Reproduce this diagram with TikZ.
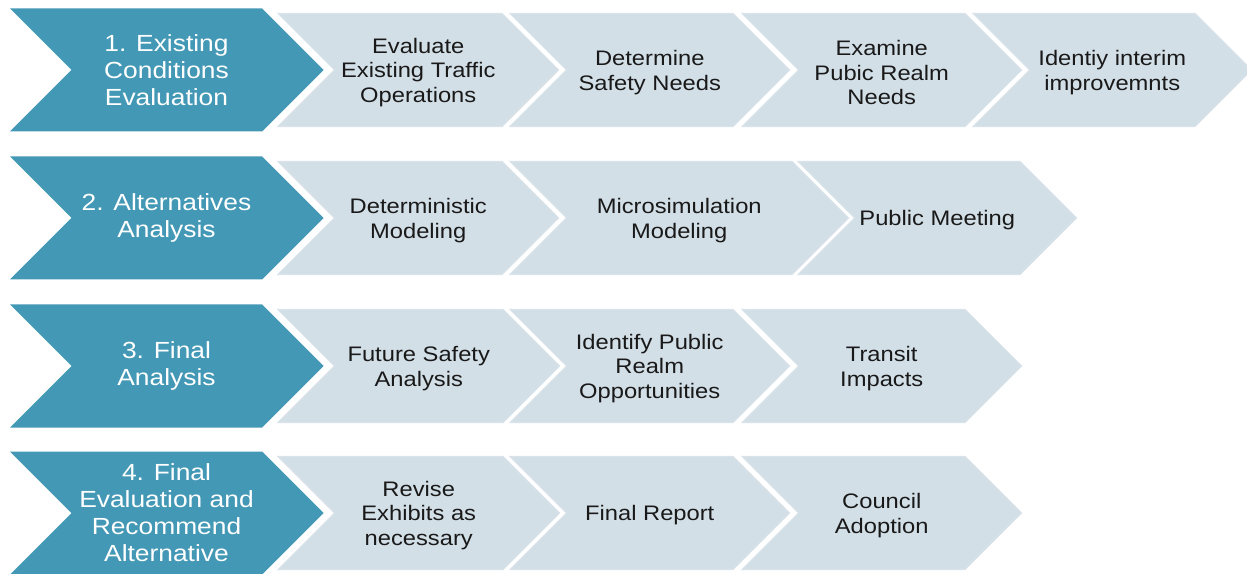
\documentclass[tikz,border=0pt]{standalone}
\usepackage{fontspec}
\setmainfont[FakeStretch=1.13]{Liberation Sans}
\usepackage{tikz}
\definecolor{phaseblue}{RGB}{67,152,181}
\definecolor{stepgray}{RGB}{211,223,231}
\definecolor{stepedge}{RGB}{218,227,234}
% chevron outline: left x, right x (top corner), middle y, half height
\newcommand{\chevron}[4]{%
  (#1,#3-#4) -- (#2,#3-#4) -- (#2+#4,#3) -- (#2,#3+#4) -- (#1,#3+#4) -- (#1+#4,#3) -- cycle}

\begin{document}
\begin{tikzpicture}[x=0.75pt, y=-0.75pt,
    phasefill/.style={fill=phaseblue},
    stepfill/.style={fill=stepgray, draw=stepedge, line width=0.8pt},
    phasetext/.style={align=center, text=white, inner sep=0pt,
      font=\fontsize{17.5}{20.3}\selectfont},
    steptext/.style={align=center, text=black!90, inner sep=0pt,
      font=\fontsize{15.75}{18.4}\selectfont}]
    \useasboundingbox (0,0) rectangle (1247,574);

    % --- the four phases, dark chevrons on the left ---
    \foreach \y/\n/\txt in {%
        70/1/{1. Existing\\Conditions\\Evaluation},
        218/2/{2. Alternatives\\Analysis},
        366/3/{3. Final\\Analysis},
        513/4/{4. Final\\Evaluation and\\Recommend\\Alternative}} {
      \fill[phasefill] \chevron{10}{262}{\y}{61.5};
      \node[phasetext] (phase\n) at (166.5,\y) {\txt};
    }

    % --- the tasks of each phase, light chevrons ---
    \foreach \y/\l/\r/\nm/\txt in {%
        70/278/502/task11/{Evaluate\\Existing Traffic\\Operations},
        70/510/733/task12/{Determine\\Safety Needs},
        70/742/965/task13/{Examine\\Pubic Realm\\Needs},
        70/973/1195/task14/{Identiy interim\\improvemnts},
        218/278/502/task21/{Deterministic\\Modeling},
        218/510/792/task22/{Microsimulation\\Modeling},
        218/798/1020/task23/{Public Meeting},
        366/278/503/task31/{Future Safety\\Analysis},
        366/510/733/task32/{Identify Public\\Realm\\Opportunities},
        366/742/965/task33/{Transit\\Impacts},
        513/278/503/task41/{Revise\\Exhibits as\\necessary},
        513/510/733/task42/{Final Report},
        513/742/965/task43/{Council\\Adoption}} {
      \filldraw[stepfill] \chevron{\l}{\r}{\y}{56.5};
      \node[steptext] (\nm) at ({(\l+\r+56.5)/2},\y+2.5) {\txt};
    }
  \end{tikzpicture}
\end{document}
